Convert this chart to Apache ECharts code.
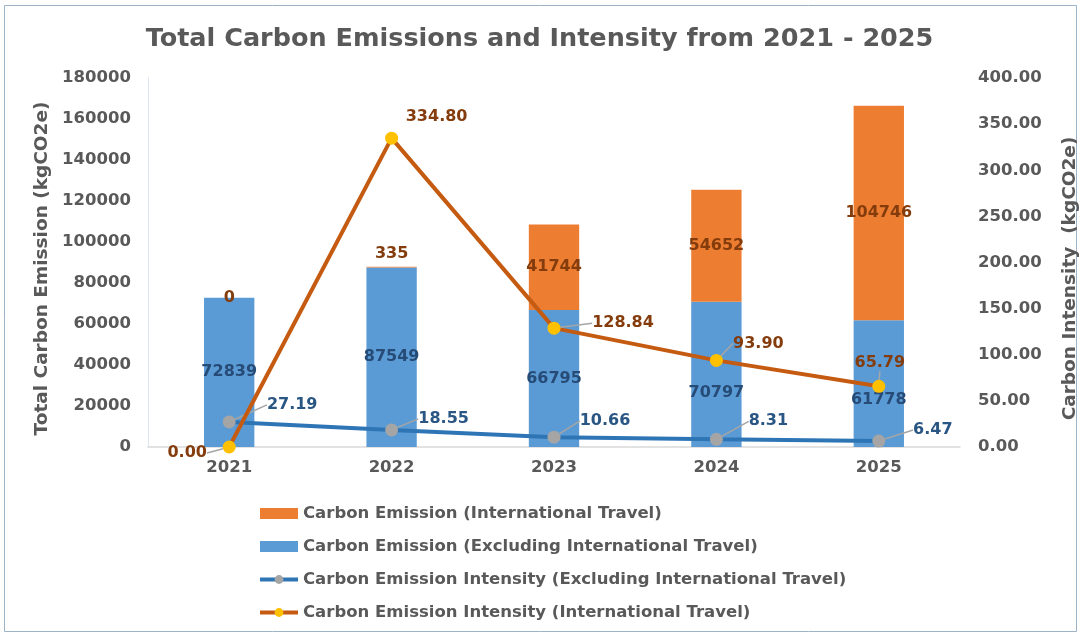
<!DOCTYPE html>
<html><head><meta charset="utf-8">
<script src="https://cdn.jsdelivr.net/npm/echarts@6/dist/echarts.min.js"></script>
<style>html,body{margin:0;padding:0;background:#fff}#c{width:1079px;height:635px}</style>
</head><body><div id="c"></div>
<script>
const years = ['2021','2022','2023','2024','2025'];
const emissionExcl = [72839, 87549, 66795, 70797, 61778];
const emissionIntl = [0, 335, 41744, 54652, 104746];
const intensityExcl = [27.19, 18.55, 10.66, 8.31, 6.47];
const intensityIntl = [0.00, 334.80, 128.84, 93.90, 65.79];
const leftTicks = {min: 0, max: 180000, interval: 20000};
const rightTicks = {min: 0, max: 400, interval: 50};

const names = ['Carbon Emission (International Travel)','Carbon Emission (Excluding International Travel)','Carbon Emission Intensity (Excluding International Travel)','Carbon Emission Intensity (International Travel)'];
const FONT = '"DejaVu Sans", "Open Sans", sans-serif';
const axisText = {color:'#595959', fontSize:16.5, fontWeight:'bold', fontFamily:FONT};

// label offsets (styling)
const exclLabelDy = [0, 0, 0, 18, 16];
const exclLineOff = [[63,-17],[52,-11],[51,-16],[52,-18],[54,-11]];
const intlLineOff = [[-42,6],[45,-21],[69,-5],[42,-17],[1,-23]];
const intlLeader = [true, false, true, true, true];

const chart = echarts.init(document.getElementById('c'), null, {renderer:'canvas'});
chart.setOption({
  backgroundColor:'#fff',
  animation:false,
  title:{text:'Total Carbon Emissions and Intensity from 2021 - 2025', left:'center', top:21,
    textStyle:{color:'#595959', fontSize:25.5, fontWeight:'bold', fontFamily:FONT}},
  graphic:[{type:'rect', shape:{x:4.5,y:5.5,width:1072,height:626}, style:{fill:'none', stroke:'#9DB3C8', lineWidth:1}, silent:true}],
  grid:{left:148, right:119, top:78, bottom:188, outerBoundsMode:'none', containLabel:false},
  legend:{orient:'vertical', left:253, top:500, itemGap:16, itemWidth:38, itemHeight:11,
    textStyle:{color:'#595959', fontSize:16.5, fontWeight:'bold', fontFamily:FONT},
    data:[{name:names[0], icon:'rect'},{name:names[1], icon:'rect'},
      {name:names[2], lineStyle:{width:4}},{name:names[3], lineStyle:{width:4}}]},
  xAxis:{type:'category', data:years, axisTick:{show:false},
    axisLine:{lineStyle:{color:'#D9D9D9', width:1.5}}, axisLabel:Object.assign({margin:12}, axisText)},
  yAxis:[
    {type:'value', min:leftTicks.min, max:leftTicks.max, interval:leftTicks.interval,
      splitLine:{show:false}, axisLine:{show:true, lineStyle:{color:'#DAE6F4'}},
      axisLabel:Object.assign({margin:17, formatter:v=>String(v)}, axisText),
      name:'Total Carbon Emission (kgCO2e)', nameLocation:'middle', nameGap:94,
      nameTextStyle:{color:'#595959', fontSize:18.5, fontWeight:'bold', fontFamily:FONT, padding:[0,12,0,0]}},
    {type:'value', min:rightTicks.min, max:rightTicks.max, interval:rightTicks.interval,
      splitLine:{show:false}, axisLine:{show:false},
      axisLabel:Object.assign({margin:18, formatter:v=>v.toFixed(2)}, axisText),
      name:'Carbon Intensity  (kgCO2e)', nameLocation:'middle', nameGap:101, nameRotate:90,
      nameTextStyle:{color:'#595959', fontSize:18.5, fontWeight:'bold', fontFamily:FONT, padding:[0,32,0,0]}}
  ],
  series:[
    {name:names[1], type:'bar', stack:'e', barWidth:'31%', itemStyle:{color:'#5B9BD5'},
      data:emissionExcl.map((v,i)=>({value:v, label:{offset:[0,exclLabelDy[i]]}})),
      label:{show:true, position:'inside', color:'#264B77', fontSize:16, fontWeight:'bold', fontFamily:FONT}},
    {name:names[0], type:'bar', stack:'e', barWidth:'31%', itemStyle:{color:'#ED7D31'},
      data:emissionIntl.map((v,i)=>({value:v, label: v>0 && v<5000 ? {position:'top'} : {}})),
      label:{show:true, position:'inside', color:'#843C0C', fontSize:16, fontWeight:'bold', fontFamily:FONT}},
    {name:names[2], type:'line', yAxisIndex:1, data:intensityExcl, z:5,
      lineStyle:{color:'#2E75B6', width:4}, itemStyle:{color:'#A5A5A5'}, symbol:'circle', symbolSize:13,
      label:{show:true, position:'inside', formatter:p=>p.value.toFixed(2), color:'#2A5684', fontSize:16, fontWeight:'bold', fontFamily:FONT},
      labelLine:{show:true, lineStyle:{color:'#A5A5A5', width:1.5}},
      labelLayout:p=>({dx:exclLineOff[p.dataIndex][0], dy:exclLineOff[p.dataIndex][1]})},
    {name:names[3], type:'line', yAxisIndex:1, z:6,
      data:intensityIntl.map((v,i)=>({value:v, labelLine:{show:intlLeader[i]}})),
      lineStyle:{color:'#C55A11', width:4}, itemStyle:{color:'#FFC000'}, symbol:'circle', symbolSize:13,
      label:{show:true, position:'inside', formatter:p=>Number(p.value).toFixed(2), color:'#843C0C', fontSize:16, fontWeight:'bold', fontFamily:FONT},
      labelLine:{show:true, lineStyle:{color:'#A5A5A5', width:1.5}},
      labelLayout:p=>({dx:intlLineOff[p.dataIndex][0], dy:intlLineOff[p.dataIndex][1]})}
  ]
});
</script></body></html>
